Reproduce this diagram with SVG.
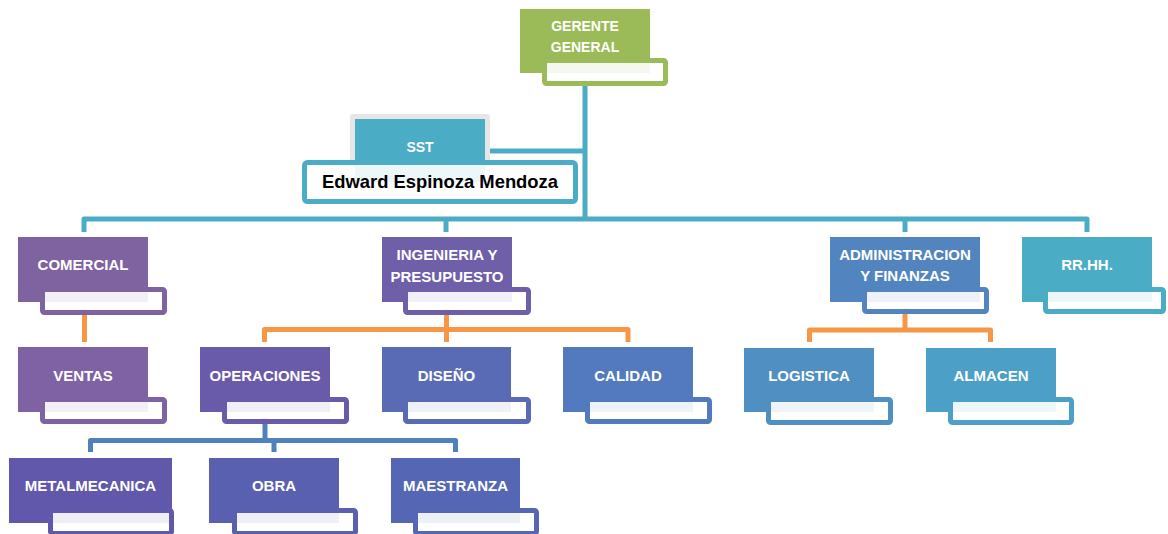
<svg xmlns="http://www.w3.org/2000/svg" width="1168" height="534" viewBox="0 0 1168 534">
<style>
.t{font-family:"Liberation Sans",Arial,sans-serif;font-weight:bold;fill:#ffffff;text-anchor:middle;font-size:15px}
.sub{fill:#ffffff;fill-opacity:0.9;stroke-width:5}
.c{fill:none;stroke-width:5;stroke-linejoin:round;stroke-linecap:butt}
.teal{stroke:#4BACC6}
.orange{stroke:#F79646}
.blue{stroke:#4F81BD}
</style>
<rect width="1168" height="534" fill="#ffffff"/>
<g id="connectors">
  <path class="c teal" d="M585,80 V219"/>
  <path class="c teal" d="M585,151 H490"/>
  <path class="c teal" d="M84,232 V219 H1087 V232"/>
  <path class="c teal" d="M446,219 V232"/>
  <path class="c teal" d="M905,219 V232"/>
  <path class="c orange" d="M84.5,309 V342"/>
  <path class="c orange" d="M264.5,342 V329.5 H628 V342"/>
  <path class="c orange" d="M446.5,309 V342"/>
  <path class="c orange" d="M809.5,342 V330 H990.5 V342"/>
  <path class="c orange" d="M905,308 V330"/>
  <path class="c blue" d="M265,418 V440.5"/>
  <path class="c blue" d="M90.5,452 V440.5 H455.5 V452"/>
  <path class="c blue" d="M274,440.5 V452"/>
</g>
<g id="gerente">
  <rect x="520" y="9" width="130" height="64" fill="#9BBB59"/>
  <rect class="sub" x="544.5" y="60.5" width="121" height="23" rx="2" stroke="#9BBB59"/>
  <text class="t" font-size="14" x="585" y="31" style="font-size:14px">GERENTE</text>
  <text class="t" x="585" y="52" style="font-size:14px">GENERAL</text>
</g>
<g id="sst">
  <rect x="350" y="114" width="140" height="70" rx="3" fill="#E6E6E6"/>
  <rect x="355" y="119" width="130" height="63" fill="#4BACC6"/>
  <rect class="sub" x="304.5" y="162.5" width="271" height="39" rx="3" stroke="#4BACC6"/>
  <text class="t" x="420" y="152" style="font-size:14px">SST</text>
  <text class="t" x="440" y="188" style="font-size:18.4px;fill:#000000">Edward Espinoza Mendoza</text>
</g>
<g id="comercial">
  <rect x="18" y="237" width="130" height="65" fill="#7F63A1"/>
  <rect class="sub" x="42.5" y="289.5" width="122" height="23" rx="2" stroke="#7F63A1"/>
  <text class="t" x="83" y="270">COMERCIAL</text>
</g>
<g id="ingenieria">
  <rect x="382" y="237" width="130" height="65" fill="#6F5EA8"/>
  <rect class="sub" x="405.5" y="289.5" width="123" height="23" rx="2" stroke="#6F5EA8"/>
  <text class="t" x="447" y="260">INGENIERIA Y</text>
  <text class="t" x="447" y="282">PRESUPUESTO</text>
</g>
<g id="administracion">
  <rect x="830" y="237" width="150" height="65" fill="#5285C0"/>
  <rect class="sub" x="864.5" y="289.5" width="122" height="22" rx="2" stroke="#5285C0"/>
  <text class="t" x="905" y="260">ADMINISTRACION</text>
  <text class="t" x="905" y="281">Y FINANZAS</text>
</g>
<g id="rrhh">
  <rect x="1022" y="237" width="130" height="65" fill="#4BACC6"/>
  <rect class="sub" x="1045.5" y="289.5" width="118" height="22" rx="2" stroke="#4BACC6"/>
  <text class="t" x="1087" y="270">RR.HH.</text>
</g>
<g id="ventas">
  <rect x="18" y="347" width="130" height="65" fill="#7F62A3"/>
  <rect class="sub" x="42.5" y="399.5" width="122" height="22" rx="2" stroke="#7F62A3"/>
  <text class="t" x="83" y="381">VENTAS</text>
</g>
<g id="operaciones">
  <rect x="200" y="347" width="130" height="65" fill="#6A5AAA"/>
  <rect class="sub" x="224.5" y="399.5" width="122" height="22" rx="2" stroke="#6A5AAA"/>
  <text class="t" x="265" y="381">OPERACIONES</text>
</g>
<g id="diseno">
  <rect x="382" y="347" width="129" height="65" fill="#5A6BB6"/>
  <rect class="sub" x="405.5" y="399.5" width="123" height="22" rx="2" stroke="#5A6BB6"/>
  <text class="t" x="446.5" y="381">DISEÑO</text>
</g>
<g id="calidad">
  <rect x="563" y="347" width="130" height="65" fill="#5379BE"/>
  <rect class="sub" x="587.5" y="399.5" width="122" height="22" rx="2" stroke="#5379BE"/>
  <text class="t" x="628" y="381">CALIDAD</text>
</g>
<g id="logistica">
  <rect x="744" y="348" width="130" height="64" fill="#4F8FC1"/>
  <rect class="sub" x="768.5" y="399.5" width="122" height="23" rx="2" stroke="#4F8FC1"/>
  <text class="t" x="809" y="381">LOGISTICA</text>
</g>
<g id="almacen">
  <rect x="926" y="348" width="130" height="64" fill="#4CA0C7"/>
  <rect class="sub" x="950.5" y="399.5" width="121" height="23" rx="2" stroke="#4CA0C7"/>
  <text class="t" x="991" y="381">ALMACEN</text>
</g>
<g id="metalmecanica">
  <rect x="9" y="458" width="163" height="65" fill="#6258AB"/>
  <rect class="sub" x="50.5" y="510.5" width="121" height="23" rx="2" stroke="#6258AB"/>
  <text class="t" x="90.5" y="491">METALMECANICA</text>
</g>
<g id="obra">
  <rect x="209" y="458" width="130" height="65" fill="#5A60B0"/>
  <rect class="sub" x="234.5" y="510.5" width="121" height="23" rx="2" stroke="#5A60B0"/>
  <text class="t" x="274" y="491">OBRA</text>
</g>
<g id="maestranza">
  <rect x="391" y="458" width="129" height="65" fill="#5567B4"/>
  <rect class="sub" x="415.5" y="510.5" width="121" height="23" rx="2" stroke="#5567B4"/>
  <text class="t" x="455.5" y="491">MAESTRANZA</text>
</g>
</svg>
